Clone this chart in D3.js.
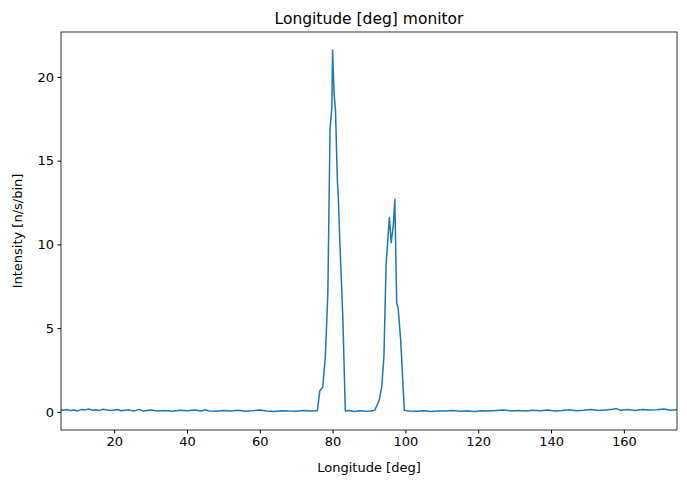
<!DOCTYPE html>
<html><head><meta charset="utf-8">
<script src="https://cdn.jsdelivr.net/npm/d3@7"></script>
<style>body{margin:0;background:#fff;font-family:"DejaVu Sans",sans-serif;}</style>
</head><body>
<script>
// longitude [deg] and intensity
const lonLeft = [5,6,7,8,9,10,11,12,13,14,15,16,17,18,19,20,21,22,23,24,25,26,27,28,29,30,32,34,36,38,40,42,44,45,46,48,50,52,54,56,58,60,62,64,66,68,70,72,74,75];
const valLeft = [0.12,0.1,0.14,0.08,0.11,0.06,0.15,0.12,0.18,0.1,0.13,0.09,0.16,0.11,0.08,0.12,0.14,0.07,0.1,0.13,0.06,0.09,0.15,0.05,0.08,0.11,0.06,0.09,0.04,0.1,0.07,0.12,0.05,0.13,0.06,0.04,0.08,0.05,0.1,0.04,0.07,0.11,0.05,0.03,0.07,0.05,0.04,0.08,0.05,0.06];
const lonPeaks = [75.8,76.5,77.3,78.0,78.7,79.3,79.8,80.0,80.4,80.8,81.3,81.6,82.0,82.8,83.5,84.5,86,87.5,89,90.5,91.6,92.8,93.5,94.1,94.7,95.6,96.1,96.7,97.1,97.6,98.0,98.7,99.7];
const valPeaks = [0.08,1.27,1.47,3.26,7.1,16.9,18.2,21.6,19.0,18.0,13.9,12.7,10.1,5.7,0.05,0.08,0.03,0.07,0.04,0.05,0.1,0.7,1.5,3.3,8.8,11.6,10.1,11.2,12.7,6.5,6.2,4.3,0.1];
const lonRight = [101,103,105,107,109,111,113,115,117,119,121,123,125,127,129,131,133,135,137,139,141,143,145,147,149,151,153,155,157,158,159,161,163,165,167,169,171,173,175];
const valRight = [0.05,0.04,0.07,0.03,0.06,0.05,0.08,0.04,0.06,0.03,0.07,0.05,0.09,0.11,0.06,0.08,0.05,0.1,0.07,0.12,0.06,0.09,0.13,0.07,0.1,0.14,0.08,0.12,0.16,0.2,0.1,0.14,0.09,0.15,0.11,0.13,0.17,0.1,0.14];
const xTicks = [20,40,60,80,100,120,140,160];
const yTicks = [0,5,10,15,20];

const data = [];
[[lonLeft,valLeft],[lonPeaks,valPeaks],[lonRight,valRight]].forEach(([a,b]) =>
  a.forEach((d,i) => data.push({x:d, y:b[i]})));

const W = 687, H = 487, m = {l:61, r:10, t:32, b:57};
const svg = d3.select("body").append("svg").attr("width",W).attr("height",H);
const x = d3.scaleLinear().domain([5.4,174.6]).range([m.l, W-m.r]);
const y = d3.scaleLinear().domain([-1.08,22.68]).range([H-m.b, m.t]);

const clip = svg.append("clipPath").attr("id","c").append("rect")
  .attr("x",m.l).attr("y",m.t).attr("width",W-m.r-m.l).attr("height",H-m.b-m.t);

svg.append("path").datum(data)
  .attr("clip-path","url(#c)")
  .attr("fill","none").attr("stroke","#1f77b4").attr("stroke-width",1.5)
  .attr("stroke-linejoin","round")
  .attr("d", d3.line().x(d=>x(d.x)).y(d=>y(d.y)));

const gx = svg.append("g").attr("transform",`translate(0,${H-m.b})`)
  .call(d3.axisBottom(x).tickValues(xTicks).tickSize(3.5).tickPadding(3.5));
const gy = svg.append("g").attr("transform",`translate(${m.l},0)`)
  .call(d3.axisLeft(y).tickValues(yTicks).tickSize(3.5).tickPadding(3.5));
[gx,gy].forEach(g => { g.select(".domain").remove();
  g.selectAll("text").attr("font-size",13).attr("font-family","DejaVu Sans").attr("fill","#000"); });

svg.append("rect").attr("x",m.l).attr("y",m.t).attr("width",W-m.r-m.l).attr("height",H-m.b-m.t)
  .attr("fill","none").attr("stroke","#000").attr("stroke-width",0.8);

svg.append("text").attr("x",(m.l+W-m.r)/2).attr("y",m.t-8).attr("text-anchor","middle")
  .attr("font-size",15.5).text("Longitude [deg] monitor");
svg.append("text").attr("x",(m.l+W-m.r)/2).attr("y",H-15).attr("text-anchor","middle")
  .attr("font-size",13).text("Longitude [deg]");
svg.append("text").attr("transform",`translate(22,${(m.t+H-m.b)/2}) rotate(-90)`)
  .attr("text-anchor","middle").attr("font-size",13).text("Intensity [n/s/bin]");
</script>
</body></html>
